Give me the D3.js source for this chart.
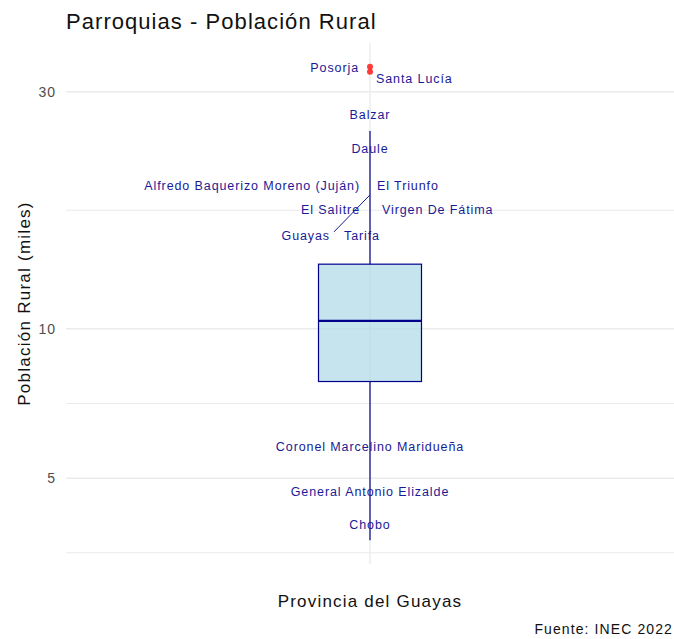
<!DOCTYPE html>
<html>
<head>
<meta charset="utf-8">
<script src="https://cdn.jsdelivr.net/npm/d3@7"></script>
<style>
  body { margin: 0; background: #fff; }
  text { font-family: "Liberation Sans", Arial, sans-serif; }
</style>
</head>
<body>
<div id="chart"></div>
<script>
// poblacion rural por parroquia (miles)
var parroquias = ["Posorja", "Santa Lucía", "Balzar", "Daule",
  "Alfredo Baquerizo Moreno (Juján)", "El Triunfo", "El Salitre", "Virgen De Fátima",
  "Guayas", "Tarifa", "Coronel Marcelino Maridueña", "General Antonio Elizalde", "Chobo"];
var poblacion = [33.7, 32.9, 25.0, 23.1, 19.4, 19.4, 17.4, 17.4, 18.6, 15.4, 5.78, 4.69, 3.75];

// cuartiles de la caja (q1, mediana, q3)
var cuartiles = [7.83, 10.37, 13.49];

var yTicks = [5, 10, 30];
var yMinor = [3.54, 7.07, 17.32];
var categoria = ["Provincia del Guayas"];

// posicion de las etiquetas (tipo ggrepel): anclaje y desplazamiento en px
var etiquetaAncla = ["end", "start", "middle", "middle", "end", "start", "end", "start",
  "end", "start", "middle", "middle", "middle"];
var etiquetaDx = [-11, 6, 0, 0, -10, 7, -10, 12, -40, -26, 0, 0, 0];
var etiquetaDy = [1, 7, -16, 0, 0, 0, 0, 0, 41, 0, 0, 0, -16];

var attrs = {
  width: 674,
  height: 639,
  margin: { top: 43, right: 0, bottom: 75, left: 66 },
  textColor: "#1a1a96"
};

function main () {
  var chartWidth = attrs.width - attrs.margin.left - attrs.margin.right;
  var chartHeight = attrs.height - attrs.margin.top - attrs.margin.bottom;

  var svg = d3.select("#chart").append("svg")
    .attr("width", attrs.width)
    .attr("height", attrs.height);

  // dominio log con expansion del 5%
  var lmin = Math.log10(d3.min(poblacion)), lmax = Math.log10(d3.max(poblacion));
  var pad = (lmax - lmin) * 0.05;
  var y = d3.scaleLog()
    .domain([Math.pow(10, lmin - pad), Math.pow(10, lmax + pad)])
    .range([chartHeight, 0]);

  var x = d3.scaleBand()
    .domain(categoria)
    .range([0, chartWidth])
    .paddingInner(0.2).paddingOuter(0.6);
  var cx = x(categoria[0]) + x.bandwidth() / 2;
  var boxW = 103;

  var chart = svg.append("g")
    .attr("transform", `translate(${attrs.margin.left}, ${attrs.margin.top})`);

  // grilla
  chart.selectAll(".minor").data(yMinor).enter().append("line")
    .attr("x1", 0).attr("x2", chartWidth)
    .attr("y1", d => y(d)).attr("y2", d => y(d))
    .attr("stroke", "#ebebeb").attr("stroke-width", 1);
  chart.selectAll(".major").data(yTicks).enter().append("line")
    .attr("x1", 0).attr("x2", chartWidth)
    .attr("y1", d => y(d)).attr("y2", d => y(d))
    .attr("stroke", "#ebebeb").attr("stroke-width", 1.4);
  chart.append("line")
    .attr("x1", cx).attr("x2", cx)
    .attr("y1", 0).attr("y2", chartHeight)
    .attr("stroke", "#ebebeb").attr("stroke-width", 1.4);

  // eje y
  var yAxis = d3.axisLeft(y).tickValues(yTicks).tickFormat(d3.format("d")).tickSize(0).tickPadding(10);
  var ga = chart.append("g").call(yAxis);
  ga.select(".domain").remove();
  ga.selectAll("text").attr("fill", "#4d4d4d").style("font-size", "14px")
    .style("letter-spacing", "1px")
    .style("font-family", "'Liberation Sans', Arial, sans-serif");

  // estadisticas de la caja (log)
  var q1 = cuartiles[0], med = cuartiles[1], q3 = cuartiles[2];
  var iqr = Math.log10(q3) - Math.log10(q1);
  var hiFence = Math.pow(10, Math.log10(q3) + 1.5 * iqr);
  var loFence = Math.pow(10, Math.log10(q1) - 1.5 * iqr);
  var dentro = poblacion.filter(d => d <= hiFence && d >= loFence);
  var whiskHi = d3.max(dentro), whiskLo = d3.min(dentro);
  var atipicos = poblacion.filter(d => d > hiFence || d < loFence);

  chart.append("line")
    .attr("x1", cx).attr("x2", cx)
    .attr("y1", y(whiskHi)).attr("y2", y(q3))
    .attr("stroke", "darkblue").attr("stroke-width", 1.2);
  chart.append("line")
    .attr("x1", cx).attr("x2", cx)
    .attr("y1", y(q1)).attr("y2", y(whiskLo))
    .attr("stroke", "darkblue").attr("stroke-width", 1.2);
  chart.append("rect")
    .attr("x", cx - boxW / 2).attr("width", boxW)
    .attr("y", y(q3)).attr("height", y(q1) - y(q3))
    .attr("fill", "lightblue").attr("fill-opacity", 0.7)
    .attr("stroke", "darkblue").attr("stroke-width", 1.2);
  chart.append("line")
    .attr("x1", cx - boxW / 2).attr("x2", cx + boxW / 2)
    .attr("y1", y(med)).attr("y2", y(med))
    .attr("stroke", "darkblue").attr("stroke-width", 2.4);

  // atipicos
  chart.selectAll(".outlier").data(atipicos).enter().append("circle")
    .attr("cx", cx).attr("cy", d => y(d)).attr("r", 3)
    .attr("fill", "#ff1a1a").attr("fill-opacity", 0.85);

  // etiquetas
  var idx = d3.range(parroquias.length);
  idx.forEach(function (i) {
    if (Math.abs(etiquetaDy[i]) > 20) {
      chart.append("line")
        .attr("x1", cx).attr("y1", y(poblacion[i]))
        .attr("x2", cx + etiquetaDx[i] + 4).attr("y2", y(poblacion[i]) + etiquetaDy[i] - 4)
        .attr("stroke", attrs.textColor).attr("stroke-width", 1);
    }
  });
  chart.selectAll(".lbl").data(idx).enter().append("text")
    .attr("x", i => cx + etiquetaDx[i])
    .attr("y", i => y(poblacion[i]) + etiquetaDy[i])
    .attr("dy", "0.35em")
    .attr("text-anchor", i => etiquetaAncla[i])
    .attr("fill", attrs.textColor)
    .style("font-size", "12.5px")
    .style("letter-spacing", "0.9px")
    .text(i => parroquias[i]);

  // titulos
  svg.append("text").attr("x", 66).attr("y", 29)
    .style("font-size", "22px").style("letter-spacing", "1.05px").attr("fill", "#111")
    .text("Parroquias - Población Rural");
  svg.append("text")
    .attr("transform", `translate(30, ${attrs.margin.top + chartHeight / 2}) rotate(-90)`)
    .attr("text-anchor", "middle")
    .style("font-size", "17px").style("letter-spacing", "1.25px").attr("fill", "#111")
    .text("Población Rural (miles)");
  svg.append("text").attr("x", attrs.margin.left + cx).attr("y", 607)
    .attr("text-anchor", "middle")
    .style("font-size", "17px").style("letter-spacing", "1.2px").attr("fill", "#111")
    .text(categoria[0]);
  svg.append("text").attr("x", 673).attr("y", 634)
    .attr("text-anchor", "end")
    .style("font-size", "14px").style("letter-spacing", "1.1px").attr("fill", "#111")
    .text("Fuente: INEC 2022");
}

main();
</script>
</body>
</html>
